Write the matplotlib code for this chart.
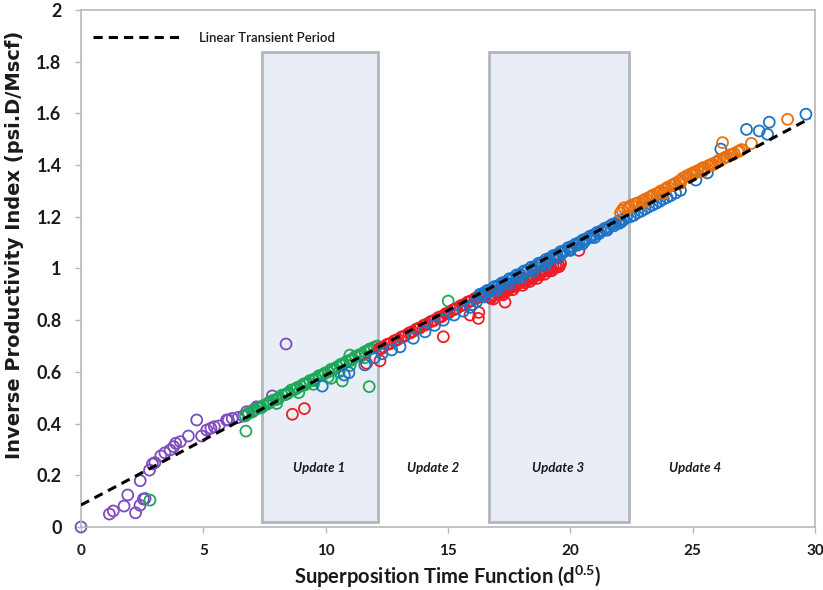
import matplotlib
matplotlib.use("Agg")
import matplotlib.pyplot as plt
from matplotlib import font_manager as fm
from matplotlib.patches import Rectangle
from matplotlib.ticker import FuncFormatter, MultipleLocator


def _w(v):
    if isinstance(v, str):
        return fm.weight_dict.get(v, 400)
    return int(v)


def pick_family(cands):
    for name in cands:
        ents = [f for f in fm.fontManager.ttflist if f.name == name]
        if any(_w(f.weight) >= 600 for f in ents):
            return name
    return 'DejaVu Sans'


FAMILY = pick_family(['Lato', 'Open Sans', 'Noto Sans', 'Roboto', 'Liberation Sans'])
plt.rcParams['font.family'] = [FAMILY, 'DejaVu Sans']
plt.rcParams['font.weight'] = 'bold'
plt.rcParams['mathtext.fontset'] = 'custom'
plt.rcParams['mathtext.rm'] = FAMILY
plt.rcParams['mathtext.bf'] = FAMILY + ':bold'

# ---------------- data ----------------
purple_x = [0.0, 1.16, 1.32, 1.76, 1.91, 2.23, 2.41, 2.55, 2.62, 2.42, 2.80, 2.92, 3.02, 3.26,
            3.43, 3.64, 3.79, 3.87, 4.06, 4.39, 4.73, 4.93, 5.14, 5.31, 5.45, 5.64, 5.95, 6.02,
            6.18, 6.43, 6.63, 6.77, 6.84, 7.04, 7.18, 7.22, 7.82, 8.38]
purple_y = [0.0, 0.050, 0.062, 0.081, 0.124, 0.055, 0.084, 0.108, 0.110, 0.179, 0.220, 0.244,
            0.249, 0.275, 0.287, 0.298, 0.311, 0.324, 0.330, 0.352, 0.414, 0.352, 0.375, 0.382,
            0.388, 0.391, 0.414, 0.414, 0.420, 0.424, 0.429, 0.446, 0.440, 0.453, 0.465, 0.463,
            0.507, 0.708]

green_x = [6.72, 6.85, 7.00, 7.12, 7.30, 7.45, 7.60, 7.72, 7.85, 7.98, 8.10, 8.22, 8.35, 8.48,
           8.60, 8.72, 8.85, 8.98, 9.10, 9.22, 9.35, 9.48, 9.60, 9.72, 9.85, 9.98, 10.10, 10.22,
           10.35, 10.48, 10.60, 10.72, 10.85, 10.98, 11.10, 11.22, 11.35, 11.48, 11.60, 11.72,
           11.85, 11.98, 12.10, 8.00, 8.90, 9.50, 10.10, 10.55, 11.00, 11.60,
           7.05, 7.38, 7.68, 8.05, 8.42, 8.78, 9.15, 9.52, 9.90, 10.28, 10.65, 11.05, 11.42, 11.80,
           2.82, 6.74, 11.78, 10.68, 10.22, 10.99, 15.01]
green_y = [0.430, 0.440, 0.445, 0.455, 0.460, 0.470, 0.475, 0.485, 0.490, 0.493, 0.500, 0.510,
           0.512, 0.520, 0.530, 0.531, 0.540, 0.545, 0.553, 0.556, 0.566, 0.570, 0.575, 0.585,
           0.588, 0.596, 0.600, 0.610, 0.613, 0.620, 0.628, 0.632, 0.640, 0.645, 0.650, 0.660,
           0.665, 0.670, 0.678, 0.683, 0.690, 0.695, 0.700, 0.478, 0.520, 0.552, 0.580, 0.600,
           0.625, 0.655,
           0.450, 0.462, 0.480, 0.496, 0.515, 0.535, 0.550, 0.566, 0.590, 0.605, 0.625, 0.645,
           0.660, 0.688,
           0.104, 0.371, 0.543, 0.565, 0.575, 0.665, 0.874]

red_x = [12.20, 12.35, 12.50, 12.65, 12.80, 12.95, 13.10, 13.25, 13.40, 13.55, 13.70, 13.85,
         14.00, 14.15, 14.30, 14.45, 14.60, 14.75, 14.90, 15.05, 15.20, 15.35, 15.50, 15.65,
         15.80, 15.95, 16.10, 16.25, 16.40, 16.55,
         12.28, 12.58, 12.88, 13.18, 13.48, 13.78, 14.08, 14.38, 14.68, 14.98, 15.28, 15.58,
         15.88, 16.18, 16.48,
         16.7, 16.8, 16.9, 17.0, 17.1, 17.2, 17.3, 17.4, 17.5, 17.6, 17.7, 17.8, 17.9, 18.0,
         18.1, 18.2, 18.3, 18.4, 18.5, 18.6, 18.7, 18.8, 18.9, 19.0, 19.1, 19.2, 19.3, 19.4,
         19.5, 19.6, 17.05, 17.55, 18.05, 18.55, 19.05,
         16.75, 17.15, 17.45, 17.75, 18.15, 18.45, 18.75, 19.15, 19.45,
         16.85, 17.25, 17.65, 18.05, 18.35, 18.65, 18.95, 19.25, 19.55,
         8.64, 9.13, 11.67, 12.22, 14.81, 15.90, 16.24, 16.26, 17.33, 20.35]
red_y = [0.690, 0.696, 0.706, 0.710, 0.720, 0.726, 0.735, 0.740, 0.750, 0.756, 0.765, 0.770,
         0.780, 0.786, 0.795, 0.800, 0.810, 0.815, 0.825, 0.830, 0.840, 0.845, 0.855, 0.860,
         0.870, 0.875, 0.884, 0.890, 0.898, 0.905,
         0.690, 0.708, 0.722, 0.736, 0.752, 0.768, 0.782, 0.797, 0.812, 0.826, 0.842, 0.858,
         0.872, 0.886, 0.900,
         0.889, 0.895, 0.898, 0.903, 0.905, 0.912, 0.916, 0.920, 0.926, 0.930, 0.934, 0.940,
         0.944, 0.948, 0.952, 0.958, 0.961, 0.966, 0.970, 0.976, 0.979, 0.984, 0.988, 0.993,
         0.996, 1.002, 1.006, 1.012, 1.016, 1.020, 0.912, 0.938, 0.962, 0.985, 1.005,
         0.885, 0.900, 0.915, 0.930, 0.945, 0.960, 0.975, 0.990, 1.005,
         0.882, 0.898, 0.918, 0.935, 0.950, 0.962, 0.978, 0.992, 1.008,
         0.436, 0.458, 0.633, 0.643, 0.736, 0.820, 0.807, 0.830, 0.870, 1.070]

blue_x = [9.86, 10.76, 10.95, 11.60, 12.00, 12.30, 12.70, 13.04, 13.58, 14.06, 14.45, 14.81,
          15.25, 15.62, 15.90, 16.00, 16.17,
          16.30, 16.45, 16.60, 16.75, 16.90, 17.05, 17.20, 17.35, 17.50, 17.65, 17.80, 17.95,
          18.10, 18.25, 18.40, 18.55, 18.70, 18.85, 19.00, 19.15, 19.30, 19.45, 19.60, 19.75,
          19.90, 20.05, 20.20, 20.35, 20.50, 20.65, 20.80, 20.95, 21.10, 21.25, 21.40, 21.55,
          21.70, 21.85, 22.00, 22.15, 22.30,
          16.5, 17.0, 17.5, 18.0, 18.5, 19.0, 19.5, 20.0, 20.5, 21.0, 21.5, 22.0,
          16.38, 16.68, 16.98, 17.28, 17.58, 17.88, 18.18, 18.48, 18.78, 19.08, 19.38, 19.68,
          19.98, 20.28, 20.58, 20.88, 21.18, 21.48, 21.78, 22.08, 22.20,
          22.45, 22.60, 22.75, 22.90, 23.05, 23.20, 23.35, 23.50, 23.65, 23.80, 23.95, 24.10,
          24.30, 24.50, 25.13, 25.60, 26.15, 27.20, 27.72, 28.13, 28.06, 29.63]
blue_y = [0.545, 0.588, 0.597, 0.627, 0.655, 0.670, 0.685, 0.697, 0.730, 0.755, 0.780, 0.800,
          0.820, 0.835, 0.850, 0.860, 0.872,
          0.900, 0.905, 0.915, 0.918, 0.930, 0.934, 0.944, 0.948, 0.960, 0.963, 0.975, 0.978,
          0.990, 0.994, 1.005, 1.008, 1.020, 1.024, 1.035, 1.040, 1.050, 1.054, 1.065, 1.068,
          1.080, 1.085, 1.094, 1.100, 1.110, 1.115, 1.125, 1.130, 1.140, 1.145, 1.155, 1.160,
          1.170, 1.175, 1.185, 1.190, 1.200,
          0.890, 0.915, 0.940, 0.965, 0.990, 1.015, 1.040, 1.070, 1.095, 1.120, 1.148, 1.175,
          0.895, 0.910, 0.925, 0.940, 0.955, 0.970, 0.985, 1.000, 1.015, 1.030, 1.045, 1.060,
          1.075, 1.090, 1.105, 1.120, 1.135, 1.150, 1.165, 1.180, 1.190,
          1.200, 1.206, 1.216, 1.222, 1.230, 1.238, 1.245, 1.252, 1.260, 1.268, 1.275, 1.282,
          1.292, 1.302, 1.342, 1.370, 1.462, 1.538, 1.532, 1.566, 1.519, 1.597]

orange_x = [22.05, 22.20, 22.35, 22.50, 22.65, 22.80, 22.95, 23.10, 23.25, 23.40, 23.55, 23.70,
            23.85, 24.00, 24.15, 24.30, 24.45, 24.60, 24.75, 24.90, 25.05, 25.20, 25.35, 25.50,
            25.65, 25.80, 25.95, 26.10, 26.25, 26.40, 26.55, 26.70, 26.85, 27.00,
            23.00, 23.80, 24.50, 25.00, 25.40, 25.80,
            22.12, 22.42, 22.72, 23.02, 23.32, 23.62, 23.92, 24.22, 24.52, 24.82, 25.12, 25.42,
            25.72, 26.02, 26.32, 26.62, 26.92,
            26.22, 27.40, 28.88]
orange_y = [1.215, 1.235, 1.232, 1.245, 1.250, 1.255, 1.262, 1.270, 1.276, 1.285, 1.290, 1.300,
            1.305, 1.315, 1.322, 1.330, 1.338, 1.350, 1.358, 1.365, 1.372, 1.378, 1.385, 1.390,
            1.398, 1.405, 1.410, 1.420, 1.425, 1.432, 1.440, 1.445, 1.452, 1.460,
            1.255, 1.290, 1.330, 1.365, 1.375, 1.400,
            1.225, 1.238, 1.252, 1.265, 1.280, 1.295, 1.310, 1.325, 1.340, 1.355, 1.370, 1.390,
            1.400, 1.415, 1.430, 1.440, 1.455,
            1.487, 1.484, 1.577]

trend_x = [0.0, 29.8]
trend_y = [0.085, 1.581]

update_spans = [(7.40, 12.14), (16.67, 22.39)]
update_labels = ["Update 1", "Update 2", "Update 3", "Update 4"]
update_label_x = [9.75, 14.4, 19.5, 25.1]

# ---------------- figure ----------------
fig = plt.figure(figsize=(8.23, 5.90), dpi=100)
ax = fig.add_axes([81/823, 1-527/590, (815-81)/823, (527-10)/590])
ax.set_xlim(0, 30)
ax.set_ylim(0, 2)

for x0, x1 in update_spans:
    ax.add_patch(Rectangle((x0, 0.02), x1 - x0, 1.818, facecolor='#E9EEF6',
                           edgecolor='#B3B7BB', linewidth=2, zorder=0.5))

series = [(purple_x, purple_y, '#7F4CC0'),
          (green_x, green_y, '#1DAA58'),
          (red_x, red_y, '#EE1C24'),
          (blue_x, blue_y, '#1E73C4'),
          (orange_x, orange_y, '#E8700E')]
for xs, ys, c in series:
    ax.scatter(xs, ys, s=62, facecolors='none', edgecolors=c, linewidths=1.3,
               zorder=2, clip_on=False)

ax.plot(trend_x, trend_y, color='black', linewidth=2.2, linestyle=(0, (3, 2)),
        zorder=3, label='Linear Transient Period')

for lab, lx in zip(update_labels, update_label_x):
    ax.text(lx, 0.228, lab, fontsize=9.5, fontweight='bold', fontstyle='italic',
            ha='center', va='center', color='#1a1a1a', zorder=4)

leg = ax.legend(loc='center left', bbox_to_anchor=(0.016, 0.946), frameon=False,
                prop={'size': 9.5, 'weight': 'semibold'}, handlelength=6.9,
                handletextpad=1.14, borderpad=0, borderaxespad=0)
for t in leg.get_texts():
    t.set_color('#1a1a1a')

ax.xaxis.set_major_locator(MultipleLocator(5))
ax.yaxis.set_major_locator(MultipleLocator(0.2))
ax.yaxis.set_major_formatter(FuncFormatter(lambda v, p: f"{v:g}"))
ax.xaxis.set_major_formatter(FuncFormatter(lambda v, p: f"{v:g}"))

for sp in ax.spines.values():
    sp.set_color('#B8B8B8')
    sp.set_linewidth(1.2)
ax.tick_params(axis='both', which='major', length=4, width=1, color='#B8B8B8',
               labelcolor='#1a1a1a')
ax.tick_params(axis='y', pad=10, labelsize=13)
ax.tick_params(axis='x', pad=8, labelsize=11)

ax.set_xlabel('Superposition Time Function (d$^{\\mathbf{0.5}}$)', fontsize=14.5,
              fontweight='bold', color='#1a1a1a')
ax.set_ylabel('Inverse Productivity Index (psi.D/Mscf)', fontsize=14,
              fontweight='bold', color='#1a1a1a', family=['DejaVu Sans'])
ax.xaxis.set_label_coords(0.5, -0.072)
ax.yaxis.set_label_coords(-0.077, 0.545)

fig.savefig('out.png', dpi=100)
